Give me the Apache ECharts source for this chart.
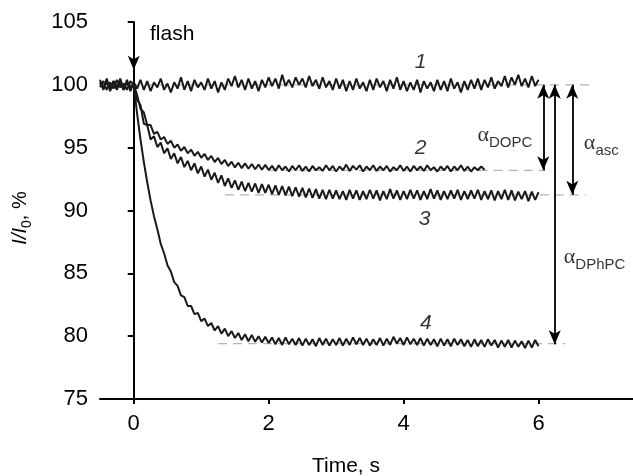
<!DOCTYPE html>
<html><head><meta charset="utf-8">
<script src="https://cdn.jsdelivr.net/npm/echarts@6/dist/echarts.min.js"></script>
<style>html,body{margin:0;padding:0;background:#fff}#c{width:633px;height:476px}</style>
</head><body><div id="c"></div>
<script>
// sampling grid of the recorded traces
const t0 = -0.5, dt = 0.05;

// Trace 1 (t = -0.5 ... 6.0)
const trace1 = [
100.4,99.6,100.5,99.5,100.3,99.7,100.5,99.6,100.4,99.5,100.2,
99.7,100.4,99.6,100.3,99.5,100.2,99.8,100.5,99.6,100.1,
99.4,100.2,99.7,100.6,99.6,100.3,99.5,100.4,99.8,100.2,
99.6,100.5,99.7,100.3,99.4,100.2,99.6,100.5,99.9,100.7,
99.8,100.4,99.6,100.5,99.7,100.3,99.5,100.4,99.8,100.6,
99.9,100.5,99.7,100.8,99.9,100.4,99.8,100.6,100.0,100.5,
99.8,100.7,99.9,100.4,99.7,100.6,99.8,100.3,99.6,100.5,
99.7,100.4,99.5,100.3,99.6,100.5,99.7,100.2,99.5,100.4,
99.6,100.5,99.8,100.3,99.5,100.4,99.7,100.6,99.6,100.3,
99.5,100.2,99.6,100.4,99.4,100.3,99.7,100.2,99.5,100.4,
99.6,100.3,99.5,100.5,99.7,100.2,99.4,100.3,99.6,100.4,
99.7,100.5,99.6,100.4,99.8,100.6,99.7,100.3,99.9,100.7,
99.8,100.6,100.0,100.8,99.9,100.5,99.8,100.7,99.9,100.4
];
// Trace 2 (t = -0.5 ... 5.2)
const trace2 = [
100.2,99.7,100.3,99.8,100.1,99.6,100.3,99.8,100.2,99.7,100.0,
99.2,98.1,97.8,96.8,96.8,96.1,96.25,95.65,95.85,95.3,
95.55,95.0,95.25,94.75,95.05,94.55,94.85,94.35,94.67,94.2,
94.5,94.02,94.34,93.86,94.18,93.7,94.02,93.54,93.88,93.43,
93.8,93.37,93.75,93.32,93.7,93.28,93.66,93.24,93.63,93.22,
93.55,93.15,93.6,93.2,93.5,93.1,93.55,93.2,93.6,93.15,
93.5,93.1,93.55,93.2,93.45,93.15,93.6,93.2,93.55,93.1,
93.5,93.2,93.65,93.15,93.55,93.25,93.6,93.1,93.5,93.2,
93.6,93.15,93.5,93.2,93.55,93.1,93.45,93.2,93.6,93.15,
93.5,93.1,93.55,93.2,93.5,93.15,93.6,93.2,93.45,93.1,
93.5,93.2,93.55,93.1,93.5,93.2,93.6,93.15,93.5,93.1,
93.45,93.2,93.5,93.25
];
// Trace 3 (t = -0.5 ... 6.0)
const trace3 = [
99.8,100.3,99.6,100.2,99.7,100.4,99.8,100.1,99.6,100.3,100.0,
98.8,98.4,96.9,96.8,95.65,95.9,95.05,95.4,94.55,94.95,
94.1,94.55,93.75,94.25,93.45,93.95,93.2,93.75,92.95,93.5,
92.7,93.25,92.45,93.0,92.2,92.8,91.95,92.55,91.8,92.4,
91.65,92.3,91.55,92.2,91.5,92.15,91.4,92.1,91.4,92.05,
91.3,92.0,91.25,91.95,91.2,91.9,91.15,91.85,91.1,91.8,
91.05,91.75,91.0,91.7,90.95,91.65,90.9,91.65,90.95,91.6,
90.9,91.55,90.85,91.65,90.95,91.6,90.85,91.55,90.9,91.65,
90.95,91.6,90.8,91.55,90.9,91.7,90.95,91.6,90.85,91.55,
90.9,91.65,90.95,91.6,90.85,91.55,90.9,91.7,90.95,91.6,
90.85,91.55,90.9,91.6,90.95,91.65,90.85,91.55,90.9,91.6,
90.95,91.65,90.85,91.55,90.9,91.6,90.8,91.55,90.9,91.65,
90.85,91.6,90.8,91.5,90.9,91.55,90.75,91.5,90.85,91.45
];
// Trace 4 (t = -0.5 ... 6.0)
const trace4 = [
100.1,99.8,100.2,99.7,100.3,99.9,100.1,99.6,100.2,99.8,100.0,
97.7,95.65,93.85,92.25,90.8,89.55,88.5,87.35,86.6,85.65,
85.15,84.3,84.0,83.25,83.1,82.4,82.4,81.75,81.85,81.2,
81.4,80.8,81.05,80.45,80.8,80.2,80.6,80.0,80.4,79.85,
80.25,79.7,80.15,79.6,80.1,79.55,80.0,79.5,79.95,79.45,
79.9,79.35,79.85,79.3,79.9,79.35,79.8,79.3,79.85,79.25,
79.8,79.3,79.75,79.2,79.85,79.3,79.8,79.25,79.75,79.3,
79.85,79.25,79.8,79.3,79.9,79.35,79.85,79.3,79.8,79.25,
79.75,79.3,79.85,79.25,79.8,79.3,79.95,79.4,79.85,79.3,
79.9,79.35,79.8,79.3,79.85,79.25,79.8,79.3,79.75,79.2,
79.8,79.25,79.75,79.2,79.8,79.3,79.75,79.2,79.7,79.15,
79.75,79.2,79.7,79.15,79.75,79.25,79.7,79.1,79.65,79.15,
79.7,79.1,79.65,79.15,79.6,79.05,79.65,79.1,79.7,79.2
];

// fitted plateau levels (dashed gray)
const fitLevels = [100, 93.2, 91.25, 79.4];
const fitStart  = [-0.5, 2.0, 1.35, 1.25];
const fitEnd    = [6.75, 6.1, 6.7, 6.4];

const xTicks = [0, 2, 4, 6];
const traceLabels = [['1', 4.25, 101.8], ['2', 4.25, 95.0], ['3', 4.31, 89.3], ['4', 4.33, 81.05]];
const alphaLabels = [['DOPC', 5.50, 95.8], ['asc', 6.93, 95.2], ['DPhPC', 6.83, 86.15]];
const arrowX    = [6.07, 6.24, 6.5];
const arrowTop  = [100, 100, 100];
const arrowBot  = [93.2, 79.35, 91.25];
const flashArrow = [0, 104.6, 101.2];

const toData = arr => arr.map((v, i) => [t0 + i * dt, v]);

const series = [];
fitLevels.forEach((lv, i) => {
  series.push({
    type: 'line', data: [[fitStart[i], lv], [fitEnd[i], lv]], symbol: 'none', z: 1,
    lineStyle: { color: '#b4b4b4', width: 1.3, type: [9, 6] }, silent: true
  });
});
[trace1, trace2, trace3, trace4].forEach((tr, i) => {
  const s = {
    type: 'line', data: toData(tr), symbol: 'none', z: 3, silent: true,
    lineStyle: { color: '#1a1a1a', width: 2 }
  };
  if (i === 0) {
    const ml = arrowX.map((x, k) => [
      { coord: [x, arrowTop[k]] }, { coord: [x, arrowBot[k]] }
    ]);
    ml.push([{ coord: [flashArrow[0], flashArrow[1]], symbol: 'none' }, { coord: [flashArrow[0], flashArrow[2]], symbol: 'arrow' }]);
    s.markLine = {
      silent: true, symbol: ['arrow', 'arrow'], symbolSize: [9, 14], animation: false,
      lineStyle: { color: '#000', width: 1.8, type: 'solid' },
      label: { show: false }, data: ml
    };
  }
  series.push(s);
});
series.push({
  type: 'scatter', symbolSize: 1, itemStyle: { color: 'rgba(0,0,0,0)' }, silent: true, z: 5,
  data: traceLabels.map(d => [d[1], d[2], d[0]]),
  label: {
    show: true, position: 'inside', formatter: p => p.data[2],
    fontFamily: 'Liberation Sans', fontStyle: 'italic', fontSize: 21, color: '#000'
  }
});
series.push({
  type: 'scatter', symbolSize: 1, itemStyle: { color: 'rgba(0,0,0,0)' }, silent: true, z: 5,
  data: alphaLabels.map(d => [d[1], d[2], d[0]]),
  label: {
    show: true, position: 'inside', formatter: p => '{a|\u03b1}{s|' + p.data[2] + '}',
    color: '#000',
    rich: {
      a: { fontFamily: 'Liberation Serif', fontSize: 22, color: '#000', lineHeight: 26, verticalAlign: 'top' },
      s: { fontFamily: 'Liberation Sans', fontSize: 15, color: '#000', lineHeight: 26, verticalAlign: 'bottom', padding: [10, 0, 0, 0] }
    }
  }
});

const chart = echarts.init(document.getElementById('c'), null, { renderer: 'canvas' });
chart.setOption({
  animation: false,
  backgroundColor: '#fff',
  grid: { left: 100, right: 0, top: 22, bottom: 77 },
  xAxis: {
    type: 'value', min: -0.5, max: 7.4,
    axisLine: { lineStyle: { color: '#000', width: 2 } },
    axisTick: { show: true, customValues: xTicks, length: 5, lineStyle: { color: '#000', width: 2 } },
    axisLabel: { customValues: xTicks, margin: 14, fontFamily: 'Liberation Sans', fontSize: 22, color: '#000' },
    splitLine: { show: false }
  },
  yAxis: {
    type: 'value', min: 75, max: 105, interval: 5,
    axisLine: { show: true, lineStyle: { color: '#000', width: 2 } },
    axisTick: { show: true, length: 6, lineStyle: { color: '#000', width: 2 } },
    axisLabel: { margin: 12, fontFamily: 'Liberation Sans', fontSize: 22, color: '#000' },
    splitLine: { show: false }
  },
  graphic: [
    { type: 'text', left: 150, top: 24, style: { text: 'flash', font: '21px "Liberation Sans"', fill: '#000' } },
    { type: 'text', x: 346, y: 466, style: { text: 'Time, s', font: '21px "Liberation Sans"', fill: '#000', align: 'center', verticalAlign: 'middle' } },
    { type: 'text', x: 22, y: 218, rotation: Math.PI / 2,
      style: { text: '{i|I/I}{z|0}{n|, %}', align: 'center', verticalAlign: 'middle', fill: '#000',
        rich: {
          i: { fontFamily: 'Liberation Sans', fontStyle: 'italic', fontSize: 20, lineHeight: 24, verticalAlign: 'top' },
          z: { fontFamily: 'Liberation Sans', fontSize: 14, lineHeight: 24, verticalAlign: 'bottom', padding: [8, 0, 0, 0] },
          n: { fontFamily: 'Liberation Sans', fontSize: 20, lineHeight: 24, verticalAlign: 'top' }
        } } }
  ],
  series: series
});
</script></body></html>
